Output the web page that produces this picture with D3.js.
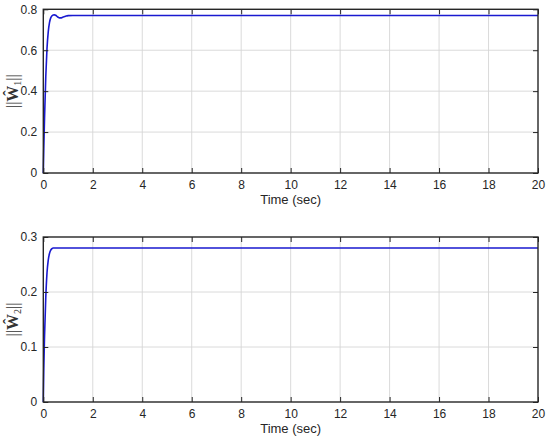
<!DOCTYPE html>
<html><head><meta charset="utf-8">
<script src="https://d3js.org/d3.v7.min.js"></script>
<style>body{margin:0;background:#fff}</style>
</head><body>
<script>
const t1 = [0,0.02,0.05,0.1,0.15,0.2,0.25,0.3,0.35,0.4,0.45,0.5,0.55,0.6,0.65,0.7,0.8,0.9,1.0,1.2,20];
const w1 = [0,0.12,0.27,0.47,0.61,0.69,0.735,0.758,0.768,0.772,0.773,0.771,0.766,0.761,0.758,0.758,0.762,0.766,0.769,0.77,0.77];
const t2 = [0,0.02,0.05,0.1,0.15,0.2,0.25,0.3,0.35,0.4,0.5,20];
const w2 = [0,0.06,0.12,0.19,0.235,0.258,0.27,0.276,0.279,0.28,0.28,0.28];
const xTicks = [0,2,4,6,8,10,12,14,16,18,20];
const y1Ticks = [0,0.2,0.4,0.6,0.8];
const y2Ticks = [0,0.1,0.2,0.3];
const xLabel = "Time (sec)";

const W = 550, H = 440;
const svg = d3.select("body").append("svg").attr("width", W).attr("height", H)
  .style("font-family", "Arial, 'Liberation Sans', sans-serif");

function panel(top, bottom, ymax, yTicks, ts, vs, sub) {
  const left = 43.3, right = 538;
  const x = d3.scaleLinear().domain([0,20]).range([left,right]);
  const y = d3.scaleLinear().domain([0,ymax]).range([bottom,top]);
  const g = svg.append("g");
  g.selectAll(".gx").data(xTicks.slice(1,-1)).enter().append("line")
    .attr("x1", d=>x(d)).attr("x2", d=>x(d)).attr("y1", top).attr("y2", bottom)
    .attr("stroke", "#d6d6d6").attr("stroke-width", 0.9);
  g.selectAll(".gy").data(yTicks.slice(1,-1)).enter().append("line")
    .attr("x1", left).attr("x2", right).attr("y1", d=>y(d)).attr("y2", d=>y(d))
    .attr("stroke", "#d6d6d6").attr("stroke-width", 0.9);
  const line = d3.line().x((d,i)=>x(ts[i])).y(d=>y(d)).curve(d3.curveMonotoneX);
  g.append("path").datum(vs).attr("d", line).attr("fill","none")
    .attr("stroke","#1a1ad0").attr("stroke-width",1.6);
  const xa = d3.axisBottom(x).tickValues(xTicks).tickSize(-5).tickPadding(7).tickFormat(d3.format("d"));
  const gx = g.append("g").attr("transform", `translate(0,${bottom})`).call(xa);
  const ya = d3.axisLeft(y).tickValues(yTicks).tickSize(-5).tickPadding(6).tickFormat(d=>d===0?"0":d3.format(".1f")(d));
  const gy = g.append("g").attr("transform", `translate(${left},0)`).call(ya);
  const xt = d3.axisTop(x).tickValues(xTicks).tickSize(-5).tickFormat("");
  const gxt = g.append("g").attr("transform", `translate(0,${top})`).call(xt);
  const yr = d3.axisRight(y).tickValues(yTicks).tickSize(-5).tickFormat("");
  const gyr = g.append("g").attr("transform", `translate(${right},0)`).call(yr);
  [gx,gy,gxt,gyr].forEach(a=>{
    a.select(".domain").remove();
    a.selectAll("line").attr("stroke","#262626").attr("stroke-width",1);
    a.selectAll("text").attr("fill","#262626").style("font-size","12px").style("font-family","Arial, 'Liberation Sans', sans-serif");
  });
  g.append("rect").attr("x",left).attr("y",top).attr("width",right-left).attr("height",bottom-top)
    .attr("fill","none").attr("stroke","#262626").attr("stroke-width",1.4);
  g.append("text").attr("x",(left+right)/2).attr("y",bottom+31).attr("text-anchor","middle")
    .attr("fill","#262626").style("font-size","13px").text(xLabel);
  const yl = g.append("text").attr("transform",`translate(17.5,${(top+bottom)/2}) rotate(-90)`)
    .attr("text-anchor","middle").attr("fill","#333")
    .style("font-family","'Liberation Serif', 'DejaVu Serif', serif").style("font-size","16px");
  yl.append("tspan").text("||");
  yl.append("tspan").style("font-weight","bold").text("Ŵ");
  yl.append("tspan").attr("dy",3).style("font-size","10px").text(sub);
  yl.append("tspan").attr("dy",-3).text("||");
}
panel(9.3, 173, 0.8, y1Ticks, t1, w1, "1");
panel(237, 402, 0.3, y2Ticks, t2, w2, "2");
</script>
</body></html>
